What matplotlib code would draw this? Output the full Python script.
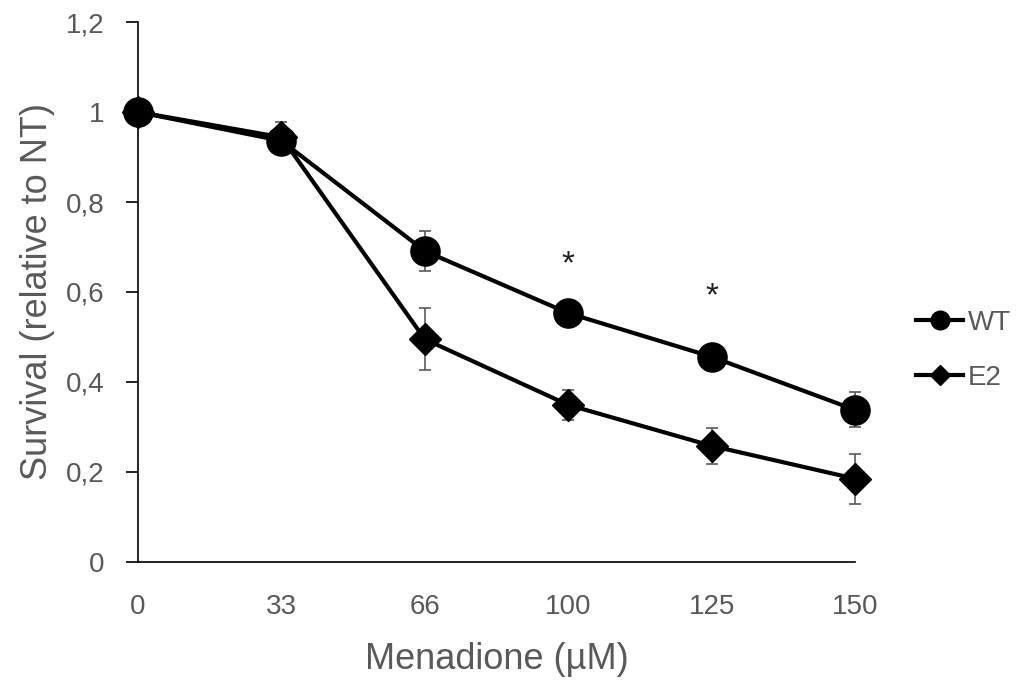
import matplotlib
matplotlib.use("Agg")
import matplotlib.pyplot as plt

# doses (categorical, equally spaced on the axis)
doses = ["0", "33", "66", "100", "125", "150"]

wt_mean = [1.0, 0.936, 0.691, 0.553, 0.456, 0.338]
wt_err = [0.0, 0.02, 0.044, 0.01, 0.01, 0.039]

e2_mean = [1.0, 0.944, 0.495, 0.349, 0.258, 0.185]
e2_err = [0.0, 0.033, 0.069, 0.034, 0.04, 0.056]

# significance marks: dose index and baseline height
star_idx = [3, 4]
star_y = [0.641, 0.571]

yticks = [0, 0.2, 0.4, 0.6, 0.8, 1.0, 1.2]
ytick_labels = ["0", "0,2", "0,4", "0,6", "0,8", "1", "1,2"]

grey = "#595959"
plt.rcParams['font.family'] = ['Liberation Sans', 'DejaVu Sans']

fig = plt.figure(figsize=(10.18, 6.82), dpi=100)
ax = fig.add_axes([0.1356, 0.176, 0.7044, 0.7917])

x = list(range(len(doses)))

ax.errorbar(x, wt_mean, yerr=wt_err, fmt="none", ecolor=grey, elinewidth=1.2,
            capsize=4, capthick=1.2, zorder=2, clip_on=False)
ax.errorbar(x, e2_mean, yerr=e2_err, fmt="none", ecolor=grey, elinewidth=1.2,
            capsize=4, capthick=1.2, zorder=2, clip_on=False)

ax.plot(x, wt_mean, color="black", lw=3, marker="o", ms=21, zorder=3,
        label="WT", clip_on=False)
ax.plot(x, e2_mean, color="black", lw=3, marker="D", ms=16.5, zorder=3,
        label="E2", clip_on=False)

for i, y in zip(star_idx, star_y):
    ax.text(i, y, "*", ha="center", va="baseline", fontsize=24, color="#222222")

ax.set_xlim(0, len(doses) - 1)
ax.set_ylim(0, 1.2)
ax.set_xticks(x)
ax.set_xticklabels(doses)
ax.set_yticks(yticks)
ax.set_yticklabels(ytick_labels)

ax.tick_params(axis="x", length=0, pad=23, labelsize=20, labelcolor=grey)
ax.tick_params(axis="y", length=9, width=1.2, direction="out", pad=15,
               labelsize=20, labelcolor=grey)

for side in ["top", "right"]:
    ax.spines[side].set_visible(False)
for side in ["left", "bottom"]:
    ax.spines[side].set_linewidth(1.2)
ax.spines["left"].set_zorder(1)

ax.set_xlabel("Menadione (µM)", fontsize=26, color=grey, labelpad=16)
ax.set_ylabel("Survival (relative to NT)", fontsize=26, color=grey, labelpad=8)

leg = fig.legend(loc="center left", bbox_to_anchor=(0.9, 0.486), frameon=False,
                 fontsize=20, borderpad=0, borderaxespad=0, handlelength=1.7,
                 handletextpad=0.15, labelspacing=1.05, markerscale=0.64)
for t in leg.get_texts():
    t.set_color(grey)

fig.savefig("out.png", dpi=100)
